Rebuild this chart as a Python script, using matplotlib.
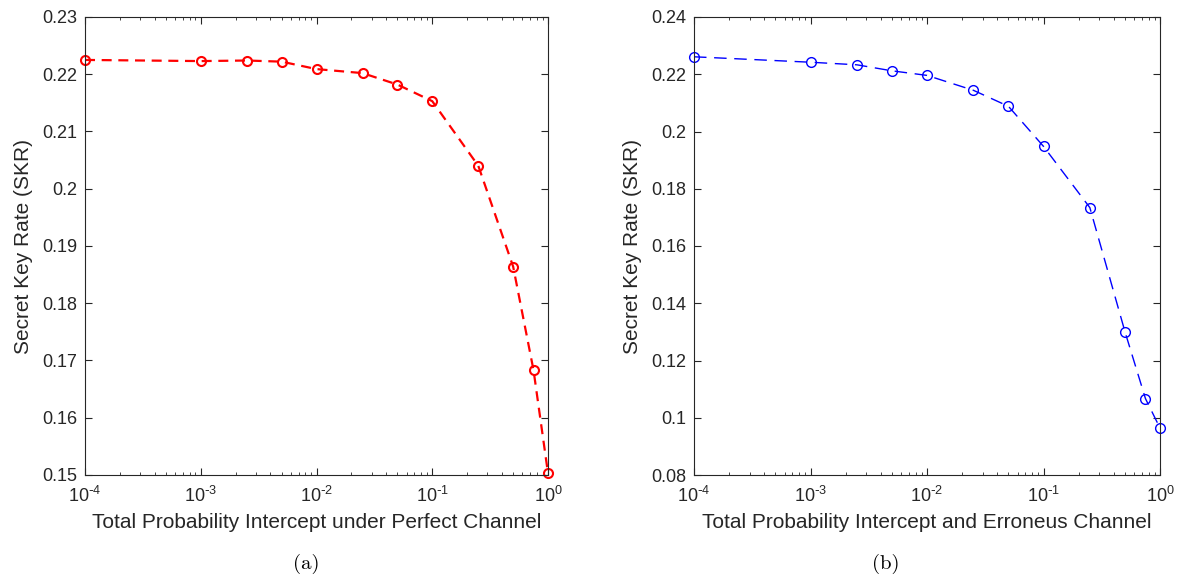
import numpy as np
import matplotlib.pyplot as plt
from matplotlib.ticker import FuncFormatter, LogLocator, FixedLocator

plt.rcParams['font.family'] = ['Liberation Sans', 'DejaVu Sans']
plt.rcParams['mathtext.default'] = 'regular'

# total intercept probability (x) and secret key rate (y)
p = [1e-4, 1e-3, 2.5e-3, 5e-3, 1e-2, 2.5e-2, 5e-2, 0.1, 0.25, 0.5, 0.75, 1.0]
skr_perfect = [0.2225, 0.2223, 0.2224, 0.2222, 0.2209, 0.2202, 0.2182,
               0.2153, 0.2040, 0.1864, 0.1683, 0.1503]
skr_error = [0.2261, 0.2242, 0.2233, 0.2212, 0.2196, 0.2144, 0.2088,
             0.1948, 0.1734, 0.1301, 0.1067, 0.0964]

xlabels = ['Total Probability Intercept under Perfect Channel',
           'Total Probability Intercept and Erroneus Channel']
ylims = [(0.15, 0.23), (0.08, 0.24)]
ysteps = [0.01, 0.02]
captions = ['(a)', '(b)']

W, H = 1178, 580
fig = plt.figure(figsize=(W/100, H/100), dpi=100)
boxes = [(85, 17, 548, 475), (694, 17, 1160, 475)]
capx = [306, 886]
axc = '#262626'


def logfmt(v, pos):
    e = int(round(np.log10(v)))
    if e < 0:
        return r'$10^{\text{-}%d}$' % (-e)
    return r'$10^{%d}$' % e


for k in range(2):
    x0, y0, x1, y1 = boxes[k]
    ax = fig.add_axes([x0/W, 1-y1/H, (x1-x0)/W, (y1-y0)/H])
    y = skr_perfect if k == 0 else skr_error
    col = 'red' if k == 0 else 'blue'
    if k == 0:
        ax.plot(p, y, '--o', color=col, lw=1.6, mfc='none', mec=col, ms=6.5,
                mew=1.5, dashes=(4.5, 3), clip_on=False)
    else:
        ax.plot(p, y, '--o', color=col, lw=1.0, mfc='none', mec=col, ms=7,
                mew=1.0, dashes=(9, 5.5), clip_on=False)
    ax.set_xscale('log')
    ax.set_xlim(1e-4, 1)
    ax.set_ylim(*ylims[k])
    lo, hi = ylims[k]
    ax.yaxis.set_major_locator(FixedLocator(np.arange(lo, hi + 1e-9, ysteps[k])))
    ax.yaxis.set_major_formatter(FuncFormatter(lambda v, pos: '%g' % round(v, 4)))
    ax.xaxis.set_major_locator(LogLocator(base=10, numticks=10))
    ax.xaxis.set_minor_locator(LogLocator(base=10, subs=np.arange(2, 10), numticks=10))
    ax.xaxis.set_major_formatter(FuncFormatter(logfmt))
    ax.tick_params(which='both', direction='in', top=True, right=True,
                   colors=axc, labelcolor=axc, labelsize=13)
    ax.tick_params(which='major', length=5, width=0.8)
    ax.tick_params(which='minor', length=2.5, width=0.6)
    ax.tick_params(axis='x', which='both', pad=8)
    ax.tick_params(axis='y', which='both', pad=5.5)
    for s in ax.spines.values():
        s.set_color(axc)
        s.set_linewidth(0.8)
    ax.set_xlabel(xlabels[k], fontsize=15, color=axc, labelpad=5)
    ax.set_ylabel('Secret Key Rate (SKR)', fontsize=15, color=axc, labelpad=7)
    fig.text(capx[k] / W, 1 - 564/H, captions[k], ha='center', va='center',
             fontsize=15, family='cmr10', color='black')

fig.savefig('out.png', dpi=100)
